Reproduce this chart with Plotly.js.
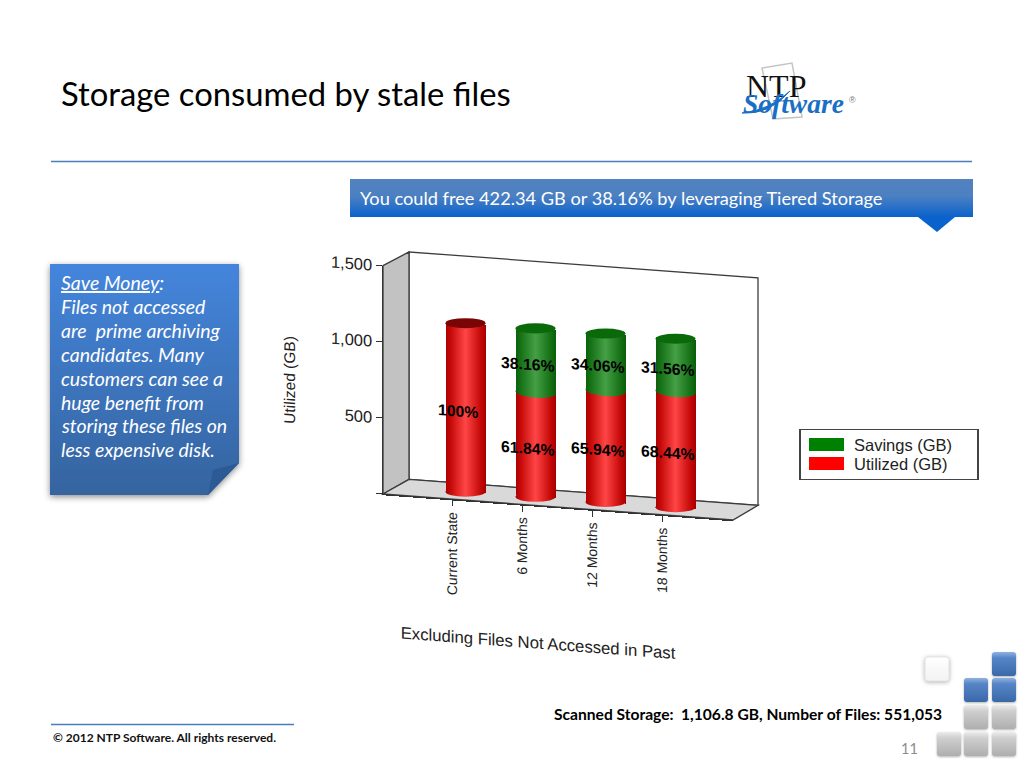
<!DOCTYPE html>
<html>
<head>
<meta charset="utf-8">
<script src="https://cdn.plot.ly/plotly-3.0.1.min.js"></script>
<style>
html,body{margin:0;padding:0;background:#fff;overflow:hidden;width:1024px;height:768px}
#slide,#chart{position:absolute;left:0;top:0;width:1024px;height:768px}
#chart{transform:matrix(1,0.0743,0,1,0,0);transform-origin:383px 494px}
</style>
</head>
<body>
<div id="slide"></div>
<div id="chart"></div>
<script>
/* ---- chart values ---- */
var categories = ["Current State", "6 Months", "12 Months", "18 Months"];
var utilized = [1106.8, 684.46, 729.82, 757.5];
var savings = [0, 422.34, 376.98, 349.3];
var utilizedLabels = ["100%", "61.84%", "65.94%", "68.44%"];
var savingsLabels = ["", "38.16%", "34.06%", "31.56%"];
var yTickVals = [0, 500, 1000, 1500];
var yTickText = ["", "500", "1,000", "1,500"];

/* ---- slide texts ---- */
var slideTitle = "Storage consumed by stale files";
var bannerText = "You could free 422.34 GB or 38.16% by leveraging Tiered Storage";
var calloutLines = ["<u>Save Money</u>:", "Files not accessed", "are  prime archiving", "candidates. Many", "customers can see a", "huge benefit from", "storing these files on", "less expensive disk."];
var footerText = "© 2012 NTP Software. All rights reserved.";
var scannedText = "Scanned Storage:  1,106.8 GB, Number of Files: 551,053";
var pageNumber = "11";

var W = 1024, H = 768;
function px(x){return x/W;}
function py(y){return 1-y/H;}
var SK = 0.0743;
var BODY = "Lato, 'Open Sans', sans-serif";
var ARIAL = "'Liberation Sans', Arial, sans-serif";

function defs(gd, list){
  var ns = "http://www.w3.org/2000/svg";
  var svg = gd.querySelector("svg.main-svg");
  var d = document.createElementNS(ns,"defs");
  list.forEach(function(g){
    var lg = document.createElementNS(ns,"linearGradient");
    lg.setAttribute("id",g.id);
    lg.setAttribute("x1","0");lg.setAttribute("y1","0");
    lg.setAttribute("x2",g.dir==="h"?"1":"0");lg.setAttribute("y2",g.dir==="h"?"0":"1");
    g.stops.forEach(function(s){
      var st = document.createElementNS(ns,"stop");
      st.setAttribute("offset",s[0]);st.setAttribute("stop-color",s[1]);
      lg.appendChild(st);
    });
    d.appendChild(lg);
  });
  svg.insertBefore(d,svg.firstChild);
}

/* ---------- slide layer ---------- */
function poly(pts,fill,line,lw){
  return {type:"path",xref:"paper",yref:"paper",
    path:"M"+pts.map(function(p){return px(p[0])+","+py(p[1]);}).join("L")+"Z",
    fillcolor:fill,line:{color:line||"rgba(0,0,0,0)",width:lw||0},layer:"below"};
}
function hline(x0,x1,y,c,w){
  return {type:"line",xref:"paper",yref:"paper",x0:px(x0),x1:px(x1),y0:py(y),y1:py(y),line:{color:c,width:w},layer:"below"};
}
function rounded(x,y,s,r,fill,line){
  var a=[x+r,y],c=[x+s,y],d=[x+s,y+r],e=[x+s,y+s],f=[x+s-r,y+s],g=[x,y+s],h=[x,y+s-r],i=[x,y],j=[x+s-r,y],k=[x+r,y+s];
  function P(p){return px(p[0])+","+py(p[1]);}
  return {type:"path",xref:"paper",yref:"paper",
    path:"M"+P(a)+"L"+P(j)+"Q"+P(c)+" "+P(d)+"L"+P([x+s,y+s-r])+"Q"+P(e)+" "+P(f)+"L"+P(k)+"Q"+P(g)+" "+P(h)+"L"+P([x,y+r])+"Q"+P(i)+" "+P(a)+"Z",
    fillcolor:fill,line:{color:line||"rgba(0,0,0,0)",width:line?1:0},layer:"below"};
}
var slideShapes=[], slideFill={}, slideShadow={};
function add(s,g,sh){ if(g) slideFill[slideShapes.length]=g; if(sh) slideShadow[slideShapes.length]=sh; slideShapes.push(s); }

add(hline(51,972,161.5,"#4a7ebb",1.5));
add(poly([[350,179],[973,179],[973,217],[350,217]],"#2c6fc0"),"bannerGrad");
add(poly([[918,217],[955,217],[937,232]],"#0a62cc"));
add(poly([[50,264],[239,264],[239,463],[208,495],[50,495]],"#3f78c4"),"calloutGrad","drop-shadow(0 2px 3px rgba(0,0,0,.45))");
add(poly([[239,463],[208,495],[213,470]],"#2b5a94"));
add(hline(51,294,724.5,"#4a7ebb",1.5));
/* logo backdrop */
add(poly([[762,68],[792,63],[802,117],[773,119]],"rgba(255,255,255,0)","#c4c4c4",1.5));
add({type:"path",xref:"paper",yref:"paper",
  path:"M"+px(742)+","+py(113)+"Q"+px(770)+","+py(115)+" "+px(790)+","+py(91)+"Q"+px(770)+","+py(110)+" "+px(742)+","+py(113)+"Z",
  fillcolor:"#1a6fc4",line:{color:"#1a6fc4",width:1},layer:"below"});
/* decorative cubes */
var blueCubes=[[992,652],[964,678],[992,678]];
var grayCubes=[[964,705],[992,705],[937,732],[964,732],[992,732]];
add(rounded(925,657,24,3,"#f6f6f6","#e4e4e4"),"whiteCube","drop-shadow(0 1px 2px rgba(0,0,0,.3))");
blueCubes.forEach(function(c){add(rounded(c[0],c[1],24,3,"#4a7cc0"),"blueCube","drop-shadow(0 1px 1px rgba(0,0,0,.3))");});
grayCubes.forEach(function(c){add(rounded(c[0],c[1],24,3,"#c4c4c4"),"grayCube","drop-shadow(0 1px 1px rgba(0,0,0,.3))");});

function note(text,x,y,size,color,o){
  o=o||{};
  return {text:text,xref:"paper",yref:"paper",x:px(x),y:py(y),showarrow:false,
    xanchor:o.xa||"left",yanchor:o.ya||"middle",align:o.al||"left",
    font:{family:o.f||BODY,size:size,color:color}};
}
var calloutRows=[283,306,330,354,378,402,425,449];
var slideNotes=[
  note(bannerText,358,198,18.2,"#ffffff"),
  note("<b>"+footerText+"</b>",51,737,12,"#111111"),
  note("<b>"+scannedText+"</b>",552,713.5,15.6,"#000000"),
  note(pageNumber,899,748,14.5,"#8c8c8c"),
  note("NTP",744,86,32,"#111111",{f:"'Liberation Serif', serif"}),
  note("<i><b>Software</b></i>",741,103,27.5,"#1a6fc4",{f:"'Liberation Serif', serif"}),
  note("®",847,100,9,"#777777",{f:ARIAL})
];
calloutLines.forEach(function(t,i){
  slideNotes.push(note("<i>"+t+"</i>",59,calloutRows[i],19.5,"#ffffff"));
});

var slideLayout={
  width:W,height:H,margin:{l:0,r:0,t:0,b:0},
  paper_bgcolor:"#ffffff",plot_bgcolor:"rgba(0,0,0,0)",
  title:{text:slideTitle,x:px(61),xanchor:"left",y:py(95),yanchor:"middle",font:{family:BODY,size:32.8,color:"#000000"}},
  xaxis:{visible:false,range:[0,1]},yaxis:{visible:false,range:[0,1]},
  shapes:slideShapes,annotations:slideNotes,showlegend:false
};
var slideDiv=document.getElementById("slide");
Plotly.newPlot(slideDiv,[],slideLayout,{staticPlot:true,displayModeBar:false}).then(function(gd){
  defs(gd,[
    {id:"bannerGrad",dir:"v",stops:[[0,"#5282bf"],[0.45,"#4c80c2"],[1,"#0a62cc"]]},
    {id:"calloutGrad",dir:"v",stops:[[0,"#4485dc"],[1,"#35649f"]]},
    {id:"whiteCube",dir:"v",stops:[[0,"#ffffff"],[1,"#f2f2f2"]]},
    {id:"blueCube",dir:"v",stops:[[0,"#8fb2e0"],[0.25,"#5585c6"],[1,"#3a69a8"]]},
    {id:"grayCube",dir:"v",stops:[[0,"#ececec"],[0.25,"#cfcfcf"],[1,"#aeaeae"]]}
  ]);
  gd.querySelectorAll(".shapelayer path[data-index]").forEach(function(p){
    var i=+p.getAttribute("data-index");
    if(slideFill[i]) p.style.fill="url(#"+slideFill[i]+")";
    if(slideShadow[i]) p.style.filter=slideShadow[i];
  });
});

/* ---------- chart layer ---------- */
var L=383,R=733,B=494,T=265.7;          /* front plane, before the skew */
var DX=13.5,DY=8.5;                      /* bars stand midway in the floor depth */
var RAD=33;                              /* half height of a cylinder cap, in GB */
var HW=40/70/2;                          /* half width of a bar, in categories */
var X_RANGE=[(L-452)/70,(R-452)/70];
var GB_PX=(B-T)/1500;                    /* pixels per GB */
var BAR_PAD=20;                          /* room under zero for the cylinder base, px */

var wallShapes=[
  poly([[409,250],[758,250],[758,477.5],[409,477.5]],"#ffffff","#3c3c3c",1.3),
  poly([[383,T],[409,250],[409,477.5],[383,B]],"#c2c2c2","#3c3c3c",1.3),
  poly([[383,B],[409,477.5],[758,477.5],[733,B]],"#d9d9d9","#3c3c3c",1.3)
];
var capShapes=[], capFill={}, capFlat={};
function cap(i,v,layer,fill,grad,flat){
  var idx=wallShapes.length+capShapes.length;
  if(grad) capFill[idx]=grad;
  if(flat) capFlat[idx]=true;
  capShapes.push({type:"circle",xref:"x2",yref:"y2",x0:i-HW,x1:i+HW,y0:v-RAD,y1:v+RAD,
    fillcolor:fill,line:{width:0,color:"rgba(0,0,0,0)"},layer:layer});
}
categories.forEach(function(c,i){
  cap(i,0,"below","#d01010","redCyl",true);
  if(savings[i]>0) cap(i,utilized[i],"above","#2a882a","greenCyl",false);
  var top=utilized[i]+savings[i];
  cap(i,top,"above",savings[i]>0?"#0a6a0a":"#7a0505",null,true);
});

var labelNotes=[];
var labelFont={family:ARIAL,size:15.8,color:"#000"};
categories.forEach(function(c,i){
  labelNotes.push({text:"<b>"+utilizedLabels[i]+"</b>",xref:"x2",yref:"y2",x:i,y:utilized[i]/2,xshift:-8,yshift:-4,showarrow:false,font:labelFont});
  if(savings[i]>0) labelNotes.push({text:"<b>"+savingsLabels[i]+"</b>",xref:"x2",yref:"y2",x:i,y:utilized[i]+savings[i]/2,xshift:-8,yshift:-4,showarrow:false,font:labelFont});
});

var traces=[
  {type:"scatter",mode:"none",x:categories,y:categories.map(function(){return 0;}),xaxis:"x",yaxis:"y",showlegend:false,hoverinfo:"skip"},
  {type:"bar",name:"Utilized (GB)",x:categories,y:utilized,xaxis:"x2",yaxis:"y2",marker:{color:"#ff0000",line:{width:0}}},
  {type:"bar",name:"Savings (GB)",x:categories,y:savings,xaxis:"x2",yaxis:"y2",marker:{color:"#008000",line:{width:0}}}
];
var chartLayout={
  width:W,height:H,margin:{l:0,r:0,t:0,b:0},
  paper_bgcolor:"rgba(0,0,0,0)",plot_bgcolor:"rgba(0,0,0,0)",
  barmode:"stack",bargap:1-40/70,
  xaxis:{domain:[px(L),px(R)],type:"category",categoryorder:"array",categoryarray:categories,range:X_RANGE,anchor:"y",
    showgrid:false,zeroline:false,showline:true,linecolor:"#333",linewidth:1.3,ticks:"outside",ticklen:6,tickcolor:"#333",
    tickangle:-90,tickfont:{family:ARIAL,size:14,color:"#222222"},
    title:{text:"Excluding Files Not Accessed in Past",standoff:30,font:{family:ARIAL,size:16.7,color:"#222222"}}},
  yaxis:{domain:[py(B),py(T)],range:[0,1500],anchor:"x",tickvals:yTickVals,ticktext:yTickText,
    showgrid:false,zeroline:false,showline:true,linecolor:"#333",linewidth:1.5,ticks:"outside",ticklen:6,tickcolor:"#333",
    tickfont:{family:ARIAL,size:16.5,color:"#222222"},
    title:{text:"Utilized (GB)",standoff:30,font:{family:ARIAL,size:15.5,color:"#222222"}}},
  xaxis2:{domain:[px(L+DX),px(R+DX)],type:"category",categoryorder:"array",categoryarray:categories,range:X_RANGE,anchor:"y2",visible:false},
  yaxis2:{domain:[py(B-DY+BAR_PAD),py(T-DY)],range:[-BAR_PAD/GB_PX,1500],anchor:"x2",visible:false},
  shapes:wallShapes.concat(capShapes),
  annotations:labelNotes,
  showlegend:true,
  legend:{x:px(799),y:py(429),xanchor:"left",yanchor:"top",traceorder:"reversed",bgcolor:"#ffffff",bordercolor:"#444",borderwidth:1.5,
    font:{family:ARIAL,size:16.5,color:"#222222"},itemwidth:45,entrywidth:136,entrywidthmode:"pixels",itemclick:false,itemdoubleclick:false}
};
function shift(el,dx,dy){
  if(el) el.setAttribute("transform","translate("+dx+","+dy+") "+(el.getAttribute("transform")||""));
}
var chartDiv=document.getElementById("chart");
Plotly.newPlot(chartDiv,traces,chartLayout,{staticPlot:true,displayModeBar:false}).then(function(gd){
  defs(gd,[
    {id:"redCyl",dir:"h",stops:[[0,"#a80000"],[0.12,"#c40808"],[0.5,"#ff4545"],[0.88,"#c40808"],[1,"#a80000"]]},
    {id:"greenCyl",dir:"h",stops:[[0,"#0a5f0a"],[0.12,"#157015"],[0.5,"#45a045"],[0.88,"#157015"],[1,"#0a5f0a"]]}
  ]);
  gd.querySelectorAll(".barlayer .trace").forEach(function(t,i){
    t.querySelectorAll(".point path").forEach(function(p){p.style.fill="url(#"+(i===0?"redCyl":"greenCyl")+")";});
  });
  gd.querySelectorAll(".shapelayer path[data-index]").forEach(function(p){
    var i=+p.getAttribute("data-index");
    if(capFill[i]) p.style.fill="url(#"+capFill[i]+")";
    if(capFlat[i]){ /* the cylinder ends stay level in the reference */
      var b=p.getBBox(), cx=b.x+b.width/2;
      p.setAttribute("transform","matrix(1,"+(-SK)+",0,1,0,"+(SK*cx)+")");
    }
  });
  /* titles sit off the axis centre in the reference */
  shift(gd.querySelector(".ytitle"),-1,7);
  shift(gd.querySelector(".xtitle"),-20,6);
  /* the reference keeps its legend flat: undo the skew for that group only */
  var leg=gd.querySelector("g.legend");
  if(leg){
    leg.setAttribute("transform","matrix(1,"+(-SK)+",0,1,0,"+(SK*L)+") "+leg.getAttribute("transform"));
    var bg=leg.querySelector("rect.bg");
    if(bg){bg.setAttribute("width",178);bg.setAttribute("height",50);}
    leg.querySelectorAll("g.traces").forEach(function(t,i){
      t.setAttribute("transform","translate(0,"+(15.5+19*i)+")");
    });
    leg.querySelectorAll(".legendbar path, .legendpoints path").forEach(function(p){
      p.setAttribute("d","M17.5,6.5H-17.5V-6.5H17.5Z");
    });
  }
});
</script>
</body>
</html>
